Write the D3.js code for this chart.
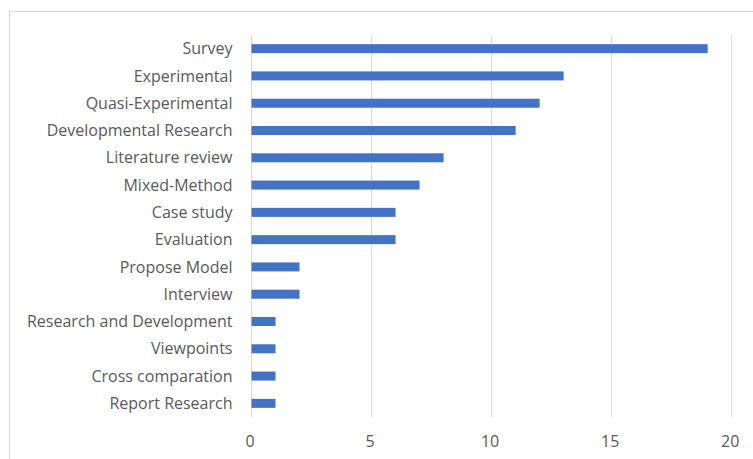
<!DOCTYPE html>
<html>
<head>
<meta charset="utf-8">
<script src="https://cdn.jsdelivr.net/npm/d3@7"></script>
<style>
body { margin: 0; background: #fff; }
text { font-family: "Open Sans", Lato, sans-serif; fill: #595959; }
</style>
</head>
<body>
<script>
const categories = ["Survey", "Experimental", "Quasi-Experimental", "Developmental Research",
    "Literature review", "Mixed-Method", "Case study", "Evaluation", "Propose Model",
    "Interview", "Research and Development", "Viewpoints", "Cross comparation", "Report Research"]
const values = [19, 13, 12, 11, 8, 7, 6, 6, 2, 2, 1, 1, 1, 1]
const ticks = [0, 5, 10, 15, 20]

const width = 753
const height = 459
const svg = d3.select("body")
    .append("svg")
    .attr("width", width)
    .attr("height", height)

// chart frame
svg.append("rect")
    .attr("x", 9.5)
    .attr("y", 11.5)
    .attr("width", 800)
    .attr("height", 500)
    .attr("fill", "none")
    .attr("stroke", "#d9d9d9")

const x = d3.scaleLinear().domain([0, 20]).range([251.5, 731.7])
const y = d3.scaleBand().domain(categories).range([35, 417]).paddingInner(0.67).paddingOuter(0.335)

svg.selectAll(".grid")
    .data(ticks)
    .enter()
    .append("line")
    .attr("x1", d => x(d))
    .attr("x2", d => x(d))
    .attr("y1", 35)
    .attr("y2", 417)
    .attr("stroke", "#d9d9d9")
    .attr("stroke-width", 1)

svg.selectAll(".bar")
    .data(values)
    .enter()
    .append("rect")
    .attr("x", x(0))
    .attr("y", (d, i) => y(categories[i]))
    .attr("width", d => x(d) - x(0))
    .attr("height", y.bandwidth())
    .attr("fill", "#4472c4")

svg.selectAll(".cat")
    .data(categories)
    .enter()
    .append("text")
    .attr("x", 232.5)
    .attr("y", d => y(d) + y.bandwidth() / 2)
    .attr("dy", "0.35em")
    .attr("text-anchor", "end")
    .style("font-size", "16px")
    .text(d => d)

svg.selectAll(".tick")
    .data(ticks)
    .enter()
    .append("text")
    .attr("x", d => x(d) - 1.5)
    .attr("y", 441.5)
    .attr("dy", "0.35em")
    .attr("text-anchor", "middle")
    .style("font-size", "16px")
    .text(d => d)
</script>
</body>
</html>
